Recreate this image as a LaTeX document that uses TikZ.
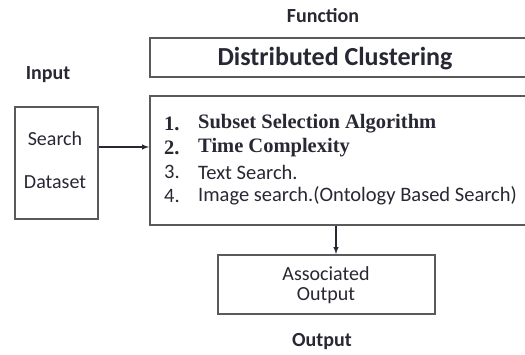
\documentclass[tikz,border=0pt]{standalone}
\usepackage{fontspec}
\setmainfont{Carlito}
\newfontfamily\serifitem{Liberation Serif}
\usetikzlibrary{shapes,arrows,positioning,fit,backgrounds}
\definecolor{ink}{RGB}{40, 40, 52}
\definecolor{frame}{RGB}{90, 90, 90}
\tikzstyle{head} = [text=ink, font=\bfseries\fontsize{20}{22}\selectfont, inner sep=0pt]
\tikzstyle{block} = [draw=frame, line width=1.5pt, fill=white, inner sep=0pt]
\tikzstyle{word} = [text=ink, font=\fontsize{20}{22}\selectfont, inner sep=0pt]
\tikzstyle{item} = [text=ink, font=\fontsize{20.5}{22}\selectfont, inner sep=0pt, anchor=west]
\tikzstyle{sitem} = [text=ink, font=\serifitem\bfseries\fontsize{20.5}{22}\selectfont, inner sep=0pt, anchor=west]
\tikzstyle{tedge}  = [draw=ink, line width=1.4pt, >=latex, ->]

\begin{document}
\begin{tikzpicture}[x=1pt, y=-1pt]
\useasboundingbox (0,0) rectangle (525,354);

% labels =============================
\node[head] (func) at (323,16) {Function};
\node[head] (inp) at (48,75) {Input};
\node[head] (outp) at (322,342) {Output};

% boxes
\node[block, minimum width=385pt, minimum height=39pt, anchor=north west] (dc) at (149,37) {};
\node[font=\bfseries\fontsize{26}{28}\selectfont, text=ink, inner sep=0pt] (dctext) at (335,59) {Distributed Clustering};

\node[block, minimum width=83pt, minimum height=112pt, anchor=north west] (search) at (14,106) {};
\node[word] (s1) at (55,139) {Search};
\node[word] (s2) at (55,182) {Dataset};

\node[block, minimum width=385pt, minimum height=129pt, anchor=north west] (func2) at (149,95) {};

% list
\node[sitem] (n1) at (164,124) {1.};
\node[sitem] (t1) at (198,124) {Subset Selection Algorithm};
\node[sitem] (n2) at (164,148) {2.};
\node[sitem] (t2) at (198,148) {Time Complexity};
\node[item] (n3) at (164,172) {3.};
\node[item] (t3) at (198,172) {Text Search.};
\node[item] (n4) at (164,196) {4.};
\node[item] (t4) at (198,196) {Image search.(Ontology Based Search)};

% output
\node[block, minimum width=217pt, minimum height=59pt, anchor=north west] (assoc) at (217,254) {};
\node[word] (a1) at (326,274) {Associated};
\node[word] (a2) at (326,296) {Output};

%edges
\path[tedge] (search.east |- 0,147) -- (func2.west |- 0,147);
\path[tedge] (func2.south -| 336,0) -- (assoc.north -| 336,0);

\end{tikzpicture}
\end{document}
